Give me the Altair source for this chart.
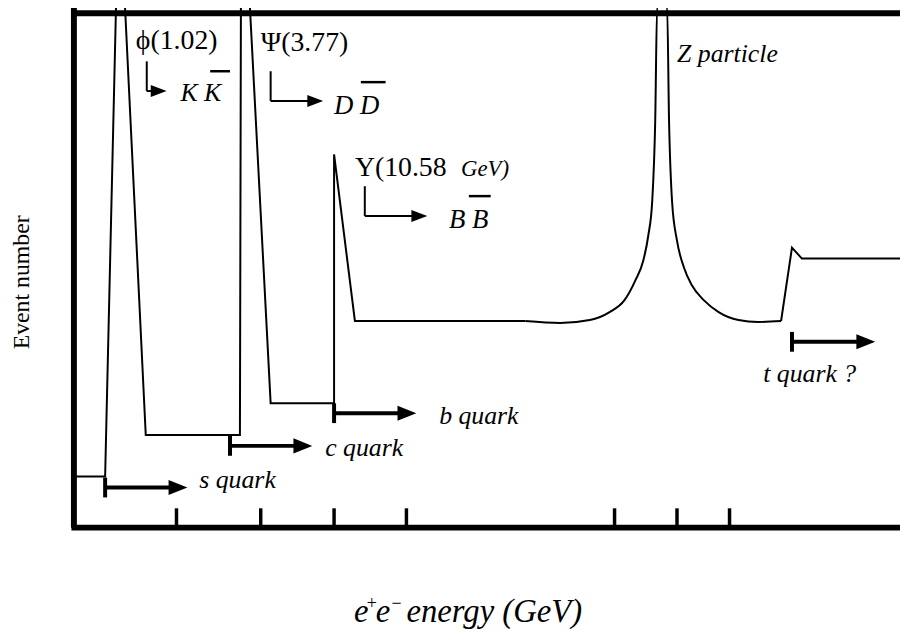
import altair as alt
import pandas as pd

# ---------------- data (schematic units: x = position on energy axis, y = event number) -------------
# main curve, linear pieces (segment 0 before the Z, segment 1 after it)
curve_x = [75, 106, 117, 126, 147, 242, 243, 252, 273, 337, 337, 358, 530]
curve_y = [52, 52, 527, 527, 94, 94, 527, 527, 126, 126, 377, 209, 209]
tail_x = [788, 799, 809, 930]
tail_y = [209, 283, 272, 272]
# Z resonance (smooth)
z_x = [530, 565, 595, 615, 630, 641, 649, 654, 658, 661, 663, 673, 675, 678, 683, 690, 698, 710, 725, 745, 765, 788]
z_y = [209, 207, 210, 218, 230, 250, 270, 295, 330, 410, 527, 527, 410, 330, 290, 263, 245, 230, 218, 210, 208, 209]

# axis ticks (no labels)
tick_x = [178, 263, 337, 410, 620, 683, 736]

# quark thresholds: start, arrow tip, level, label
q_start = [106, 232, 337, 799]
q_tip = [189, 315, 420, 883]
q_level = [41, 83, 116, 188]
q_label = ["s quark", "c quark", "b quark", "t quark ?"]
q_label_x = [201, 328, 443, 770]
q_label_y = [40, 73, 105, 147]

# resonance decay arrows (bent)
r_x = [148, 273, 368]
r_top = [471, 461, 345]
r_bottom = [441, 431, 315]
r_tip = [168, 326, 431]

# upright labels
up_text = ["ϕ(1.02)", "Ψ(3.77)", "Υ(10.58"]
up_x = [137, 263, 358]
up_y = [483, 481, 355]
up_size = [28, 28, 28]

# italic labels
it_text = ["GeV)", "Z particle", "K K", "D D", "B B",
           "e", "e", "energy (GeV)"]
it_x = [465, 683, 182, 337, 453, 357, 379, 410]
it_y = [355, 470, 431, 418, 303, -95, -95, -95]
it_size = [23, 26, 26, 27, 27, 33, 33, 33]

# superscript charges of the x title
sup_text = ["+", "\u2212"]
sup_x = [370, 395]
sup_y = [-82, -82]

# over-bars (anti-particles)
bar_x1 = [212, 364, 473]
bar_x2 = [232, 389, 495]
bar_y = [461, 450, 335]

y_title = "Event number"

# ---------------- build ----------------
FONT = "Liberation Serif"
XS = alt.Scale(domain=[75, 908], nice=False, zero=False)
YS = alt.Scale(domain=[0, 522], nice=False, zero=False)


def X(f):
    return alt.X(f, type="quantitative", scale=XS, axis=None)


def Y(f):
    return alt.Y(f, type="quantitative", scale=YS, axis=None)


lin = pd.DataFrame({
    "x": curve_x + tail_x,
    "y": curve_y + tail_y,
    "seg": [0] * len(curve_x) + [1] * len(tail_x),
    "i": list(range(len(curve_x))) + list(range(len(tail_x))),
})
zdf = pd.DataFrame({"x": z_x, "y": z_y, "i": list(range(len(z_x)))})

line_lin = alt.Chart(lin).mark_line(color="black", strokeWidth=2, interpolate="linear").encode(
    x=X("x"), y=Y("y"), detail="seg:N", order="i:Q")
line_z = alt.Chart(zdf).mark_line(color="black", strokeWidth=2, interpolate="monotone").encode(
    x=X("x"), y=Y("y"), order="i:Q")

# frame (left, top, bottom; the right side is cut off)
frame_h = pd.DataFrame({"x": [72, 72], "x2": [930, 930], "y": [0.5, 519.5]})
frame_v = pd.DataFrame({"x": [74.5], "y": [0.5], "y2": [527]})
fr_h = alt.Chart(frame_h).mark_rule(color="black", strokeWidth=6).encode(x=X("x"), x2="x2", y=Y("y"))
fr_v = alt.Chart(frame_v).mark_rule(color="black", strokeWidth=6).encode(x=X("x"), y=Y("y"), y2="y2")

ticks = alt.Chart(pd.DataFrame({"x": tick_x})).mark_rule(color="black", strokeWidth=3.5).encode(
    x=X("x"), y=alt.Y("a:Q", scale=YS, axis=None), y2="b:Q"
).transform_calculate(a="3", b="20")

qdf = pd.DataFrame({"start": q_start, "tip": q_tip, "lvl": q_level})
qdf["end"] = qdf["tip"] - 12
qdf["lo"] = qdf["lvl"] - 10
qdf["hi"] = qdf["lvl"] + 10
q_line = alt.Chart(qdf).mark_rule(color="black", strokeWidth=4).encode(x=X("start"), x2="end", y=Y("lvl"))
q_bar = alt.Chart(qdf).mark_rule(color="black", strokeWidth=4).encode(x=X("start"), y=Y("lo"), y2="hi")
q_head = alt.Chart(qdf).mark_point(shape="M-1,-0.8L1,0L-1,0.8Z", filled=True, size=361, color="black",
                                   opacity=1, strokeWidth=0, xOffset=-9.5).encode(x=X("tip"), y=Y("lvl"))

rdf = pd.DataFrame({"x": r_x, "top": r_top, "bot": r_bottom, "tip": r_tip})
rdf["end"] = rdf["tip"] - 10
r_v = alt.Chart(rdf).mark_rule(color="black", strokeWidth=2).encode(x=X("x"), y=Y("top"), y2="bot")
r_h = alt.Chart(rdf).mark_rule(color="black", strokeWidth=2).encode(x=X("x"), x2="end", y=Y("bot"))
r_head = alt.Chart(rdf).mark_point(shape="M-1,-0.75L1,0L-1,0.75Z", filled=True, size=256, color="black",
                                   opacity=1, strokeWidth=0, xOffset=-8).encode(x=X("tip"), y=Y("bot"))

bdf = pd.DataFrame({"x1": bar_x1, "x2": bar_x2, "y": bar_y})
bars = alt.Chart(bdf).mark_rule(color="black", strokeWidth=2.5).encode(x=X("x1"), x2="x2", y=Y("y"))

qlab = pd.DataFrame({"t": q_label, "x": q_label_x, "y": q_label_y})
q_text = alt.Chart(qlab).mark_text(font=FONT, fontStyle="italic", fontSize=26, align="left",
                                   baseline="alphabetic", color="black").encode(x=X("x"), y=Y("y"), text="t:N")

updf = pd.DataFrame({"t": up_text, "x": up_x, "y": up_y, "s": up_size})
up_t = alt.Chart(updf).mark_text(font=FONT, align="left", baseline="alphabetic", color="black").encode(
    x=X("x"), y=Y("y"), text="t:N", size=alt.Size("s:Q", scale=None))

itdf = pd.DataFrame({"t": it_text, "x": it_x, "y": it_y, "s": it_size})
it_t = alt.Chart(itdf).mark_text(font=FONT, fontStyle="italic", align="left", baseline="alphabetic",
                                 color="black").encode(
    x=X("x"), y=Y("y"), text="t:N", size=alt.Size("s:Q", scale=None))

supdf = pd.DataFrame({"t": sup_text, "x": sup_x, "y": sup_y})
sup_t = alt.Chart(supdf).mark_text(font=FONT, fontSize=18, align="left", baseline="alphabetic",
                                   color="black").encode(x=X("x"), y=Y("y"), text="t:N")

ytdf = pd.DataFrame({"t": [y_title], "x": [22], "y": [248]})
y_t = alt.Chart(ytdf).mark_text(font=FONT, fontSize=24, angle=270, align="center", baseline="middle",
                                color="black").encode(x=X("x"), y=Y("y"), text="t:N")

chart = alt.layer(
    line_lin, line_z, ticks, q_line, q_bar, q_head, r_v, r_h, r_head, bars,
    q_text, up_t, it_t, sup_t, y_t, fr_h, fr_v
).properties(
    width=833, height=522,
    padding={"left": 67, "top": 0, "right": 0, "bottom": 103},
    autosize=alt.AutoSizeParams(type="none"),
    background="white",
).configure_view(stroke=None)

chart.save("out.html", embed_options={"renderer": "svg", "actions": False})
